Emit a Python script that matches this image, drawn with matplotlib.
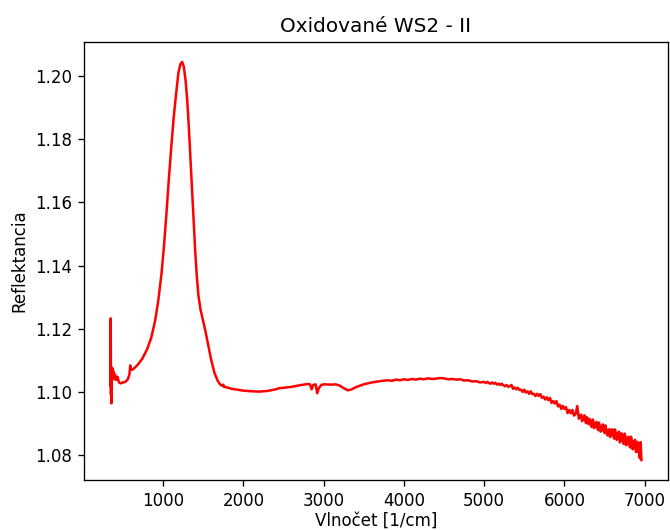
import matplotlib
matplotlib.use("Agg")
import matplotlib.pyplot as plt
import numpy as np

# Reflectance spectrum of oxidised WS2, sample II
# low-wavenumber edge (noisy start of the detector range)
wn_edge = [345, 347, 350, 352, 355, 358, 362, 367, 372, 380, 390, 400, 415,
           430, 450, 470, 500, 530, 560, 580, 590, 600, 627, 680, 740]
refl_edge = [1.1020, 1.1233, 1.0990, 1.1080, 1.0964, 1.1060, 1.1040, 1.1075,
             1.1045, 1.1065, 1.1040, 1.1055, 1.1038, 1.1048, 1.1030, 1.1027,
             1.1030, 1.1032, 1.1040, 1.1055, 1.1084, 1.1070, 1.1072, 1.1085,
             1.1105]

# main reflectance band
wn_peak = [800, 850, 900, 940, 980, 1010, 1040, 1070, 1100, 1130, 1160, 1190,
           1215, 1237, 1258, 1280, 1300, 1320, 1340, 1360, 1380, 1400, 1420,
           1440, 1465, 1495, 1525, 1560, 1600, 1640, 1680, 1710]
refl_peak = [1.1135, 1.1170, 1.1225, 1.1290, 1.1375, 1.1460, 1.1560, 1.1670,
             1.1770, 1.1865, 1.1940, 1.2010, 1.2038, 1.2045, 1.2030, 1.1985,
             1.1925, 1.1840, 1.1740, 1.1640, 1.1540, 1.1445, 1.1365, 1.1305,
             1.1262, 1.1228, 1.1195, 1.1150, 1.1100, 1.1060, 1.1035, 1.1024]

# flat plateau
wn_flat = [1740, 1750, 1760, 1800, 1850, 1900, 1950, 2000, 2100, 2200, 2300,
           2400, 2450, 2500, 2600, 2700, 2800, 2830, 2850, 2870, 2900, 2920,
           2940, 2970, 3000, 3100, 3150, 3200, 3250, 3300, 3350, 3400, 3500,
           3600, 3700, 3800, 3850, 3900, 3950, 4000, 4050, 4100, 4150, 4200,
           4250, 4300, 4350, 4400, 4450, 4500, 4550, 4600, 4650, 4700, 4750,
           4800, 4850, 4900, 4950]
refl_flat = [1.1019, 1.1023, 1.1016, 1.1014, 1.1010, 1.1008, 1.1006, 1.1004,
             1.1002, 1.1001, 1.1003, 1.1008, 1.1012, 1.1013, 1.1016, 1.1021,
             1.1025, 1.1024, 1.1008, 1.1022, 1.1024, 1.0996, 1.1012, 1.1022,
             1.1024, 1.1023, 1.1024, 1.1020, 1.1012, 1.1005, 1.1008, 1.1015,
             1.1024, 1.1030, 1.1034, 1.1037, 1.1035, 1.1039, 1.1037, 1.1040,
             1.1038, 1.1041, 1.1039, 1.1042, 1.1040, 1.1043, 1.1041, 1.1042,
             1.1044, 1.1043, 1.1040, 1.1041, 1.1039, 1.1040, 1.1036, 1.1037,
             1.1033, 1.1034, 1.1030]

# descending tail, noise starts to grow
wn_tail = [5000, 5020, 5040, 5060, 5080, 5100, 5120, 5140, 5160, 5180,
           5200, 5220, 5240, 5260, 5280, 5300, 5320, 5340, 5360, 5380,
           5400, 5420, 5440, 5460, 5480, 5500, 5520, 5540, 5560, 5580,
           5600, 5620, 5640, 5660, 5680, 5700, 5720, 5740, 5760, 5780,
           5800, 5820, 5840, 5860, 5880, 5900, 5920, 5940, 5960, 5980,
           6000, 6020, 6040, 6060, 6080, 6100, 6120, 6140, 6160, 6180]
refl_tail = [1.1032, 1.1028, 1.1032, 1.1028, 1.1026, 1.1030, 1.1026, 1.1029, 1.1023, 1.1026,
             1.1022, 1.1026, 1.1021, 1.1018, 1.1022, 1.1016, 1.1018, 1.1022, 1.1010, 1.1014,
             1.1008, 1.1013, 1.1006, 1.1007, 1.1000, 1.1007, 1.0998, 1.1002, 1.0994, 1.1002,
             1.0993, 1.0994, 1.0987, 1.0994, 1.0987, 1.0993, 1.0981, 1.0985, 1.0976, 1.0983,
             1.0974, 1.0981, 1.0965, 1.0971, 1.0963, 1.0971, 1.0954, 1.0960, 1.0946, 1.0956,
             1.0946, 1.0952, 1.0933, 1.0943, 1.0932, 1.0943, 1.0925, 1.0930, 1.0955, 1.0915]

# last part of the range, sampled denser, strongest noise
wn_end = [6200, 6210, 6220, 6230, 6240, 6250, 6260, 6270, 6280, 6290,
          6300, 6310, 6320, 6330, 6340, 6350, 6360, 6370, 6380, 6390,
          6400, 6410, 6420, 6430, 6440, 6450, 6460, 6470, 6480, 6490,
          6500, 6510, 6520, 6530, 6540, 6550, 6560, 6570, 6580, 6590,
          6600, 6610, 6620, 6630, 6640, 6650, 6660, 6670, 6680, 6690,
          6700, 6710, 6720, 6730, 6740, 6750, 6760, 6770, 6780, 6790,
          6800, 6810, 6820, 6830, 6840, 6850, 6860, 6870, 6880, 6890,
          6900, 6910, 6920, 6930, 6940, 6950, 6960]
refl_end = [1.0926, 1.0928, 1.0907, 1.0912, 1.0920, 1.0926, 1.0908, 1.0901, 1.0920, 1.0912,
            1.0898, 1.0915, 1.0907, 1.0895, 1.0889, 1.0913, 1.0908, 1.0885, 1.0891, 1.0900,
            1.0905, 1.0886, 1.0879, 1.0903, 1.0892, 1.0874, 1.0877, 1.0892, 1.0897, 1.0877,
            1.0870, 1.0894, 1.0884, 1.0866, 1.0862, 1.0879, 1.0882, 1.0857, 1.0866, 1.0881,
            1.0881, 1.0860, 1.0852, 1.0881, 1.0870, 1.0848, 1.0851, 1.0870, 1.0874, 1.0840,
            1.0844, 1.0869, 1.0858, 1.0843, 1.0835, 1.0868, 1.0861, 1.0831, 1.0839, 1.0854,
            1.0858, 1.0829, 1.0824, 1.0858, 1.0845, 1.0818, 1.0822, 1.0844, 1.0848, 1.0810,
            1.0810, 1.0842, 1.0834, 1.0807, 1.0790, 1.0841, 1.0784]

wavenumber = np.concatenate([wn_edge, wn_peak, wn_flat, wn_tail, wn_end])
reflectance = np.concatenate([refl_edge, refl_peak, refl_flat, refl_tail, refl_end])

# 670 x 530 px at 120 dpi
fig = plt.figure(figsize=(670 / 120, 530 / 120), dpi=120)
ax = fig.add_axes([0.1254, 0.0943, 0.8716, 0.8264])
ax.plot(wavenumber, reflectance, color='r', linewidth=1.5)
ax.set_title('Oxidované WS2 - II')
ax.set_xlabel('Vlnočet [1/cm]', labelpad=1)
ax.set_ylabel('Reflektancia')

fig.savefig('out.png', dpi=120)
